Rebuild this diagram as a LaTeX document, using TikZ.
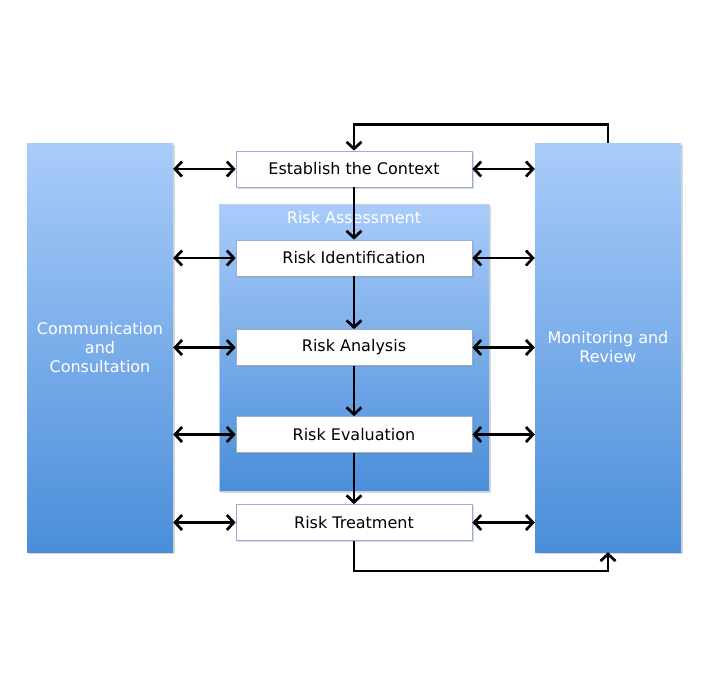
\documentclass[tikz,border=0pt]{standalone}
\usepackage{fontspec}
\setmainfont{DejaVu Sans}
\usetikzlibrary{arrows.meta,shadows}
\definecolor{gtop}{HTML}{A9CCFA}
\definecolor{gbot}{HTML}{4A8ED9}
\definecolor{bord}{HTML}{95B0D2}
\tikzset{
  sidebox/.style={rectangle, minimum width=146pt, minimum height=409pt, inner sep=0pt,
    top color=gtop, bottom color=gbot, draw=none, text=white, align=center,
    font=\fontsize{16}{19}\selectfont,
    drop shadow={opacity=0.3, shadow xshift=1.8pt, shadow yshift=-1.8pt}},
  stepbox/.style={rectangle, minimum width=236pt, minimum height=36pt, inner sep=0pt,
    fill=white, draw=bord, line width=0.7pt, text=black,
    font=\fontsize{16}{19}\selectfont,
    drop shadow={opacity=0.3, shadow xshift=1.8pt, shadow yshift=-1.8pt}},
  assessbox/.style={rectangle, minimum width=270pt, minimum height=287pt, inner sep=0pt,
    top color=gtop, bottom color=gbot, draw=bord!60, line width=0.4pt,
    drop shadow={opacity=0.3, shadow xshift=1.8pt, shadow yshift=-1.8pt}},
  tip/.style={Straight Barb[length=7pt,width=15pt]},
  conn/.style={line width=2.7pt, black, arrows={-Straight Barb[length=7pt,width=15pt]}},
  dconn/.style={line width=2.7pt, black, arrows={Straight Barb[length=7pt,width=15pt]-Straight Barb[length=7pt,width=15pt]}}
}
\begin{document}
\begin{tikzpicture}[x=1pt,y=-1pt]
\useasboundingbox (0,0) rectangle (720,675);
\fill[white] (0,0) rectangle (720,675);
\node[sidebox] (comm) at (100,347.5) {Communication\\and\\Consultation};
\node[sidebox] (mon) at (608,347.5) {Monitoring and\\Review};
\node[assessbox] (ra) at (354,347.5) {};
\node[text=white, font=\fontsize{16}{19}\selectfont] (ralabel) at (354,218) {Risk Assessment};
\node[stepbox] (est) at (354,169) {Establish the Context};
\node[stepbox] (ri) at (354,258) {Risk Identification};
\node[stepbox] (an) at (354,347.5) {Risk Analysis};
\node[stepbox] (ev) at (354,434.5) {Risk Evaluation};
\node[stepbox] (tr) at (354,522.5) {Risk Treatment};
% vertical flow
\draw[conn] (est.south) -- (ri.north);
\draw[conn] (ri.south) -- (an.north);
\draw[conn] (an.south) -- (ev.north);
\draw[conn] (ev.south) -- (tr.north);
% horizontal double arrows
\foreach \n in {est,ri,an,ev,tr}{
  \draw[dconn] (comm.east |- \n.west) -- (\n.west);
  \draw[dconn] (\n.east) -- (mon.west |- \n.east);
}
% loops
\draw[conn] (mon.north) -- ++(0,-18) -| (est.north);
\draw[conn] (tr.south) -- ++(0,30) -| (mon.south);
\end{tikzpicture}
\end{document}
